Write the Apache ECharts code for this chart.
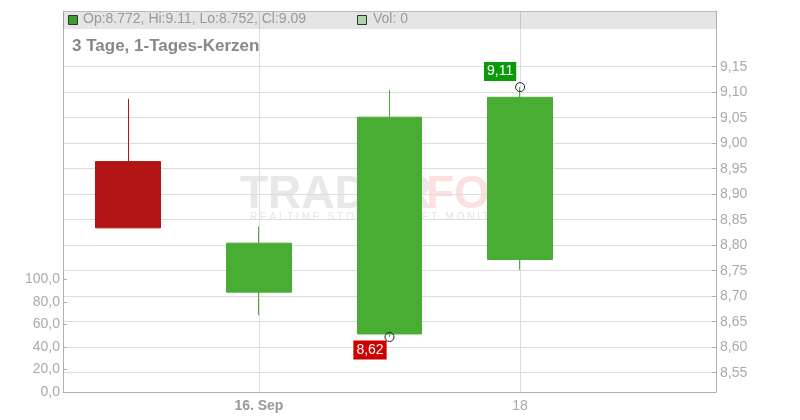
<!DOCTYPE html>
<html>
<head>
<meta charset="utf-8">
<script src="https://cdn.jsdelivr.net/npm/echarts@6/dist/echarts.min.js"></script>
<style>html,body{margin:0;padding:0;background:#fff}#c{width:800px;height:420px}</style>
</head>
<body>
<div id="c"></div>
<script>
var categories = ['15. Sep', '16. Sep', '17. Sep', '18. Sep', '19. Sep'];
var xTickLabels = ['', '16. Sep', '', '18', ''];
// [open, close, low, high]
var candles = [
  [8.964, 8.834, 8.834, 9.087],
  [8.708, 8.804, 8.663, 8.836],
  [8.626, 9.051, 8.620, 9.105],
  [8.772, 9.090, 8.752, 9.110],
  '-'
];
var volumes = [0, 0, 0, 0, '-'];
var priceTicks = [8.55, 8.60, 8.65, 8.70, 8.75, 8.80, 8.85, 8.90, 8.95, 9.00, 9.05, 9.10, 9.15];
var volTicks = [0, 20, 40, 60, 80, 100];
var highMark = { idx: 3, value: 9.11 };
var lowMark = { idx: 2, value: 8.62 };
var titleText = '3 Tage, 1-Tages-Kerzen';

var FONT = "'Liberation Sans', Arial, sans-serif";
var last = candles[3];
var headerText = 'Op:' + last[0].toFixed(3) + ', Hi:' + last[3].toFixed(2) + ', Lo:' + last[2].toFixed(3) + ', Cl:' + last[1].toFixed(2);
var volText = 'Vol: ' + volumes[3];

var chart = echarts.init(document.getElementById('c'), null, { renderer: 'canvas' });
var comma = function (v, d) { return v.toFixed(d).replace('.', ','); };

var pMin = 8.5122, pMax = 9.2592;
var plotTop = 11, plotBottom = 28, plotH = 420 - plotTop - plotBottom;
var pxPer = plotH / (pMax - pMin);
var gTop = plotTop + (pMax - priceTicks[priceTicks.length - 1]) * pxPer;
var gBottom = plotBottom + (priceTicks[0] - pMin) * pxPer;

chart.setOption({
  animation: false,
  textStyle: { fontFamily: FONT },
  grid: [
    { left: 63, right: 84, top: plotTop, bottom: plotBottom },
    { left: 63, right: 84, top: gTop, bottom: gBottom }
  ],
  graphic: [
    { type: 'text', z: 0, left: 240, top: 172, style: { text: 'TRADER', font: 'bold 46px ' + FONT, fill: '#e8e8e8' } },
    { type: 'text', z: 0, left: 426, top: 172, style: { text: 'FOX', font: 'bold 46px ' + FONT, fill: '#fbe0e0' } },
    { type: 'text', z: 0, left: 250, top: 212, style: { text: 'R E A L T I M E   S T O C K   M A R K E T   M O N I T O R I N G', font: '10px ' + FONT, fill: '#e4e4e4' } },
    { type: 'rect', z: 50, shape: { x: 63, y: 11, width: 653, height: 18 }, style: { fill: 'rgba(0,0,0,0.1)' } },
    { type: 'line', z: 51, shape: { x1: 63, y1: 11.5, x2: 716, y2: 11.5 }, style: { stroke: '#bbbbbb', lineWidth: 1 } },
    { type: 'rect', z: 52, shape: { x: 68.5, y: 15.5, width: 9, height: 9 }, style: { fill: '#3e9e2c', stroke: '#333', lineWidth: 1 } },
    { type: 'text', z: 52, left: 83, top: 12, style: { text: headerText, font: '14px ' + FONT, fill: '#999999' } },
    { type: 'rect', z: 52, shape: { x: 357.5, y: 15.5, width: 9, height: 9 }, style: { fill: '#a8d8a8', stroke: '#333', lineWidth: 1 } },
    { type: 'text', z: 52, left: 373, top: 12, style: { text: volText, font: '14px ' + FONT, fill: '#999999' } },
    { type: 'text', z: 52, left: 72, top: 38, style: { text: titleText, font: 'bold 17px ' + FONT, fill: '#888888' } }
  ],
  xAxis: [
    {
      type: 'category', gridIndex: 0,
      data: categories,
      boundaryGap: true,
      axisLine: { lineStyle: { color: '#b0b0b0' } },
      axisTick: { alignWithLabel: true, interval: function (i) { return xTickLabels[i] !== ''; }, length: 4, lineStyle: { color: '#b0b0b0' } },
      axisLabel: {
        interval: function (i) { return xTickLabels[i] !== ''; },
        formatter: function (v, i) { return i === 1 ? '{b|' + xTickLabels[i] + '}' : '{n|' + xTickLabels[i] + '}'; },
        margin: 7,
        rich: {
          b: { fontSize: 14, fontWeight: 'bold', color: '#999999', fontFamily: FONT },
          n: { fontSize: 14, color: '#aaaaaa', fontFamily: FONT }
        }
      },
      splitLine: { show: true, alignWithLabel: true, interval: function (i) { return xTickLabels[i] !== ''; }, lineStyle: { color: '#dddddd' } }
    },
    {
      type: 'category', gridIndex: 1, data: categories, show: false
    }
  ],
  yAxis: [
    {
      type: 'value', gridIndex: 0, position: 'left', min: 0, max: 338.7,
      axisLine: { show: true, lineStyle: { color: '#b0b0b0' } },
      axisTick: { show: true, inside: true, length: 4, customValues: volTicks, lineStyle: { color: '#b0b0b0' } },
      axisLabel: { customValues: volTicks, formatter: function (v) { return comma(v, 1); }, color: '#aaaaaa', fontSize: 14, margin: 3 },
      splitLine: { show: false }
    },
    {
      type: 'value', gridIndex: 0, position: 'right', min: pMin, max: pMax,
      axisLine: { show: true, lineStyle: { color: '#b0b0b0' } },
      axisTick: { show: true, inside: true, length: 4, customValues: priceTicks, lineStyle: { color: '#b0b0b0' } },
      axisLabel: { customValues: priceTicks, formatter: function (v) { return comma(v, 2); }, color: '#aaaaaa', fontSize: 14, margin: 4 },
      splitLine: { show: false }
    },
    {
      type: 'value', gridIndex: 1, position: 'right', min: priceTicks[0], max: priceTicks[priceTicks.length - 1], interval: 0.05,
      axisLine: { show: false }, axisTick: { show: false }, axisLabel: { show: false },
      splitLine: { show: true, lineStyle: { color: '#dddddd' } }
    }
  ],
  series: [
    { type: 'bar', xAxisIndex: 0, yAxisIndex: 0, data: volumes, itemStyle: { color: '#a8d8a8' }, barWidth: '50%' },
    {
      type: 'candlestick', xAxisIndex: 0, yAxisIndex: 1, data: candles, barWidth: '50%', z: 3,
      itemStyle: { color: '#4aad33', color0: '#b31515', borderColor: '#4aad33', borderColor0: '#b31515', borderWidth: 1 },
      markPoint: {
        symbol: 'circle', symbolSize: 9,
        itemStyle: { color: 'rgba(255,255,255,0)', borderColor: '#222', borderWidth: 1 },
        data: [
          { coord: [highMark.idx, highMark.value], value: highMark.value,
            label: { show: true, formatter: comma(highMark.value, 2), position: 'inside', offset: [-20, -15.5], color: '#fff', fontSize: 14, backgroundColor: '#0a9a0a', padding: [3, 3, 2, 3] } },
          { coord: [lowMark.idx, lowMark.value], value: lowMark.value,
            label: { show: true, formatter: comma(lowMark.value, 2), position: 'inside', offset: [-19.5, 13], color: '#fff', fontSize: 14, backgroundColor: '#cc0000', padding: [3, 3, 2, 3] } }
        ]
      }
    }
  ]
});
</script>
</body>
</html>
